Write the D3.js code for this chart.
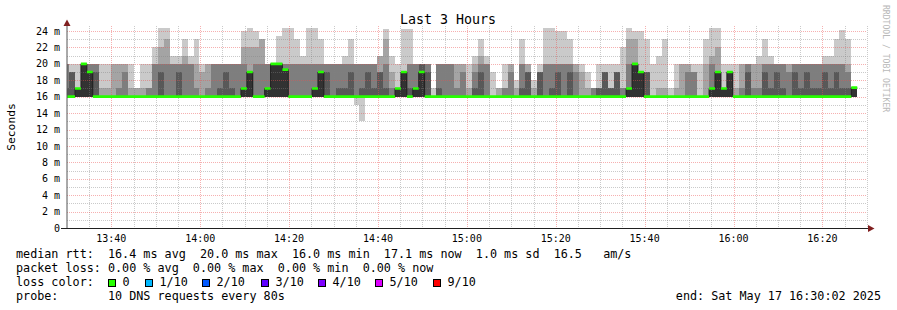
<!DOCTYPE html>
<html><head><meta charset="utf-8">
<script src="https://cdn.jsdelivr.net/npm/d3@7"></script>
<style>
html,body{margin:0;padding:0;background:#fff;}
svg{display:block;}
text{font-family:"DejaVu Sans Mono",monospace;white-space:pre;}
</style></head><body>
<svg id="chart" width="897" height="310"></svg>
<script>
// ---------- data ----------
const title = "Last 3 Hours";
const yTitle = "Seconds";
const watermark = "RRDTOOL / TOBI OETIKER";
const startTime = new Date(2025, 4, 17, 13, 30, 2);
const endTime = new Date(2025, 4, 17, 16, 30, 2);
const firstStep = new Date(2025, 4, 17, 13, 30, 30);
const stepSeconds = 80;
const yTickValues = [0, 2, 4, 6, 8, 10, 12, 14, 16, 18, 20, 22, 24];
const xTickLabels = ["13:40", "14:00", "14:20", "14:40", "15:00", "15:20", "15:40", "16:00", "16:20"];

// sorted ping values per 80 s step (ms): lowest, 2nd..5th, 6th (median), 7th..10th
const ping1 = [16,16,16,16,16,16,16,16,16,16,16,16,16,16,16,16,16,16,16,16,16,16,16,16,16,16,16,16,16,16,16,16,16,16,16,16,16,16,16,16,16,16,16,16,16,16,16,16,16,15,13,16,16,16,16,16,16,16,16,16,16,16,16,16,16,16,16,16,16,16,16,16,16,16,16,16,16,16,16,16,16,16,16,16,16,16,16,16,16,16,16,16,16,16,16,16,16,16,16,16,16,16,16,16,16,16,16,16,16,16,16,16,16,16,16,16,16,16,16,16,16,16,16,16,16,16,16,16,16,16,16,16,16,16];
const ping2to5 = [16,16,16,16,16,16,16,16,16,16,16,16,16,16,16,16,16,16,16,16,16,16,16,16,16,16,16,16,16,16,16,16,16,16,16,16,16,16,16,16,16,16,16,16,16,16,16,16,16,16,16,16,16,16,16,16,16,16,16,16,16,16,16,16,16,16,16,16,16,16,16,16,16,16,16,16,16,16,16,16,16,16,16,16,16,16,16,16,16,16,16,16,16,16,16,16,16,16,16,16,16,16,16,16,16,16,16,16,16,16,16,16,16,16,16,16,16,16,16,16,16,16,16,16,16,16,16,16,16,16,16,16,16,16];
const median = [16,16,17,20,19,16,16,16,16,16,16,16,16,16,16,16,16,16,16,16,16,16,16,16,16,16,16,16,16,16,17,19,16,16,17,20,20,19.3,16,16,16,16,17,19,16,16,16,16,16,16,16,16,16,16,16,16,17,19,16,17,19,16,16,16,16,16,16,16,16,16,16,16,16,16,16,16,16,16,16,16,16,16,16,16,16,16,16,16,16,16,16,16,16,16,16,17,20,19,16,16,16,16,16,16,16,16,16,16,16,17,19,17,19,16,16,16,16,16,16,16,16,16,16,16,16,16,16,16,16,16,16,16,16,17.1];
const ping7 = [17,19,17,20,19,19,16,16,16,16,16,16,16,16,16,16,19,16,16,19,16,16,16,16,16,16,17,19,17,16,17,19,16,16,17,20,20,19.3,16,16,16,16,17,19,19,16,17,17,19,16,17,19,17,19,17,16,17,19,17,17,20,19,16,17,16,16,16,16,16,17,19,16,16,16,16,16,16,17,19,16,19,16,17,19,16,19,16,16,16,16,17,19,17,19,16,17,20,19,19,16,16,16,16,16,16,16,16,16,16,17,19,17,19,16,16,19,16,16,19,17,19,17,16,19,17,19,17,17,19,17,19,17,17,17.1];
const ping8 = [20,19,17,20,20,20,16,16,16,17,19,16,16,16,17,20,20,20,20,20,20,20,17,16,17,20,20,20,20,20,20,19,20,20,20,20,20,20,20,20,20,20,20,20,20,20,20,20,20,20,20,20,20,19,20,17,17,19,20,20,20,20,16,20,20,20,17,19,16,19,20,20,16,16,17,19,16,20,19,16,19,20,20,20,20,20,19,16,16,17,17,19,17,19,17,20,20,19,19,16,16,16,16,16,16,19,19,16,16,20,19,17,19,16,17,20,17,17,20,20,20,20,19,20,20,20,20,20,20,20,20,20,19,17.1];
const ping9 = [20,19,17,20,20,20,17,17,20,20,20,17,17,17,17,20,22,23,20,20,21,20,20,19,20,20,20,20,20,20,22,22,22,23,20,20,20,20,20,20,20,20,20,20,20,20,20,20,20,20,20,20,20,21,23,19,17,19,20,20,20,20,16,20,20,20,20,20,17,20,21,20,16,17,17,20,17,20,20,17,19,20,20,20,20,20,20,19,17,17,17,19,17,19,17,23,23,19,19,16,17,17,16,17,20,20,19,16,20,21,22,17,19,17,20,20,20,20,20,20,20,20,20,20,20,20,20,20,20,20,20,20,20,17.1];
const ping10 = [20,20,20,20,20,20,20,20,20,20,20,20,17,20,20,22,24.4,24.4,21,21,23,21,23,20,20,20,20,20,20,20,24,24.4,24,23,20,20,23.4,24.4,24.4,23,21,24.4,24.4,23,20,20,20,21,23,20,20,20,20,21,24.3,21,20,24.3,24.3,20,20,20,17,20,20,20,20,20,20,21,23,21,19,17,20,20,18,23,20,18,20,24.4,24.4,24,24,23,20,20,19,17,20,20,20,20,22,24.4,24,24,23,20,21,23,17,20,20,20,20,20,23,24.4,24.4,20,20,20,20,20,20,21,23,21,20,20,20,20,20,20,20,20,21,21,23,24.1,23,17.1];

// loss legend
const lossLabels = ["0", "1/10", "2/10", "3/10", "4/10", "5/10", "9/10"];
const lossColors = ["#26ff00", "#00b8ff", "#0059ff", "#5e00ff", "#7e00ff", "#dd00ff", "#ff0000"];
const smokeColors = ["#cacaca", "#a4a4a4", "#7e7e7e", "#585858", "#323232"];
const legendLines = [
  "median rtt:  16.4 ms avg  20.0 ms max  16.0 ms min  17.1 ms now  1.0 ms sd  16.5   am/s",
  "packet loss: 0.00 % avg  0.00 % max  0.00 % min  0.00 % now",
  "loss color:",
  "probe:       10 DNS requests every 80s"
];
const endLabel = "end: Sat May 17 16:30:02 2025";

// ---------- layout ----------
const svg = d3.select("#chart");
const plotL = 67, plotR = 867, plotT = 26, plotB = 228;
const x = d3.scaleTime().domain([startTime, endTime]).range([plotL, plotR]);
const y = d3.scaleLinear().domain([0, 24]).range([plotB, 31]);

svg.append("rect").attr("width", 897).attr("height", 310).attr("fill", "#fff");

// build step data
const nCols = median.length;
const pts = [];
for (let k = 0; k < nCols; k++) {
  const t = k === 0 ? startTime : new Date(+firstStep + (k - 1) * stepSeconds * 1000);
  pts.push({t, p1: ping1[k], p25: ping2to5[k], p6: median[k], p7: ping7[k], p8: ping8[k], p9: ping9[k], p10: ping10[k]});
}
const lastEnd = new Date(+firstStep + (nCols - 1) * stepSeconds * 1000);
pts.push(Object.assign({}, pts[nCols - 1], {t: lastEnd}));

const bands = [
  {lo: d => d.p1, hi: d => d.p10},
  {lo: d => d.p25, hi: d => d.p9},
  {lo: d => d.p25, hi: d => d.p8},
  {lo: d => d.p25, hi: d => d.p7},
  {lo: d => d.p25, hi: d => d.p6}
];
const gSmoke = svg.append("g").attr("shape-rendering", "crispEdges");
bands.forEach((b, i) => {
  const area = d3.area().curve(d3.curveStepAfter)
    .x(d => x(d.t)).y0(d => y(b.lo(d))).y1(d => y(b.hi(d)));
  gSmoke.append("path").datum(pts).attr("d", area).attr("fill", smokeColors[i]);
});

// grid (drawn over the smoke)
const gGrid = svg.append("g");
const snap = v => Math.round(v) + 0.5;
const minorCol = "rgba(128,128,128,0.42)", majorCol = "rgba(235,80,80,0.45)";
const minorTimes = d3.timeMinute.every(5).range(startTime, endTime);
minorTimes.forEach(t => {
  const major = t.getMinutes() % 20 === 0;
  const xx = snap(x(t));
  gGrid.append("line").attr("x1", xx).attr("x2", xx).attr("y1", plotT).attr("y2", plotB)
    .attr("stroke", major ? majorCol : minorCol)
    .attr("stroke-dasharray", "1,1");
});
d3.range(1, 25).forEach(v => {
  const major = v % 2 === 0;
  const yy = snap(y(v));
  gGrid.append("line").attr("x1", plotL).attr("x2", plotR).attr("y1", yy).attr("y2", yy)
    .attr("stroke", major ? majorCol : minorCol)
    .attr("stroke-dasharray", "1,1");
});

// median: dark step line + loss-coloured band
const medLine = d3.line().curve(d3.curveStepAfter).x(d => x(d.t)).y(d => y(d.p6));
svg.append("path").datum(pts).attr("d", medLine).attr("fill", "none").attr("stroke", "#202020").attr("stroke-width", 1);
const medBand = d3.area().curve(d3.curveStepAfter).x(d => x(d.t))
  .y0(d => y(d.p6) + 1.3).y1(d => y(d.p6) - 1.3);
svg.append("path").datum(pts).attr("d", medBand).attr("fill", lossColors[0]);

// axes
svg.append("line").attr("x1", plotL).attr("x2", plotL).attr("y1", plotB).attr("y2", 25)
  .attr("stroke", "#555").attr("stroke-width", 1);
svg.append("line").attr("x1", 61).attr("x2", 869).attr("y1", plotB + 0.5).attr("y2", plotB + 0.5)
  .attr("stroke", "#1f1f1f").attr("stroke-width", 1);
svg.append("path").attr("d", `M${plotL - 3.5},26 L${plotL},19.5 L${plotL + 3.5},26 Z`).attr("fill", "#801f1f");
svg.append("path").attr("d", `M868,${plotB + 0.5 - 3.5} L874.5,${plotB + 0.5} L868,${plotB + 0.5 + 3.5} Z`).attr("fill", "#801f1f");

// y labels
const yAxis = svg.append("g").attr("font-size", "10px");
yTickValues.forEach(v => {
  yAxis.append("text").attr("x", 60).attr("y", y(v)).attr("dy", "0.36em")
    .attr("text-anchor", "end").text(v === 0 ? "0" : v + " m");
});
// x labels
const parseHM = d3.timeParse("%H:%M");
xTickLabels.forEach(lbl => {
  const p = parseHM(lbl);
  const t = new Date(2025, 4, 17, p.getHours(), p.getMinutes(), 0);
  svg.append("text").attr("x", x(t)).attr("y", 242).attr("font-size", "10px")
    .attr("text-anchor", "middle").text(lbl);
});

// titles
svg.append("text").attr("x", 448).attr("y", 24).attr("font-size", "13.3px")
  .attr("text-anchor", "middle").text(title);
svg.append("text").attr("transform", "translate(15,127) rotate(-90)").attr("font-size", "11.3px")
  .attr("text-anchor", "middle").text(yTitle);
svg.append("text").attr("transform", "translate(883,5) rotate(90)").attr("font-size", "8.1px")
  .attr("fill", "#b8b8b8").text(watermark);

// legend
const fs = "11.75px";
legendLines.forEach((s, i) => {
  svg.append("text").attr("x", 16).attr("y", 258 + i * 14).attr("font-size", fs).text(s);
});
svg.append("text").attr("x", 881).attr("y", 300).attr("font-size", fs).attr("text-anchor", "end").text(endLabel);
const boxX = [108.5, 145.5, 202.5, 261.5, 318.5, 375.5, 433.5];
lossLabels.forEach((lbl, i) => {
  svg.append("rect").attr("x", boxX[i]).attr("y", 279.5).attr("width", 7).attr("height", 7)
    .attr("fill", lossColors[i]).attr("stroke", "#000").attr("stroke-width", 1);
  svg.append("text").attr("x", boxX[i] + 14).attr("y", 286).attr("font-size", fs).text(lbl);
});
</script>
</body></html>
